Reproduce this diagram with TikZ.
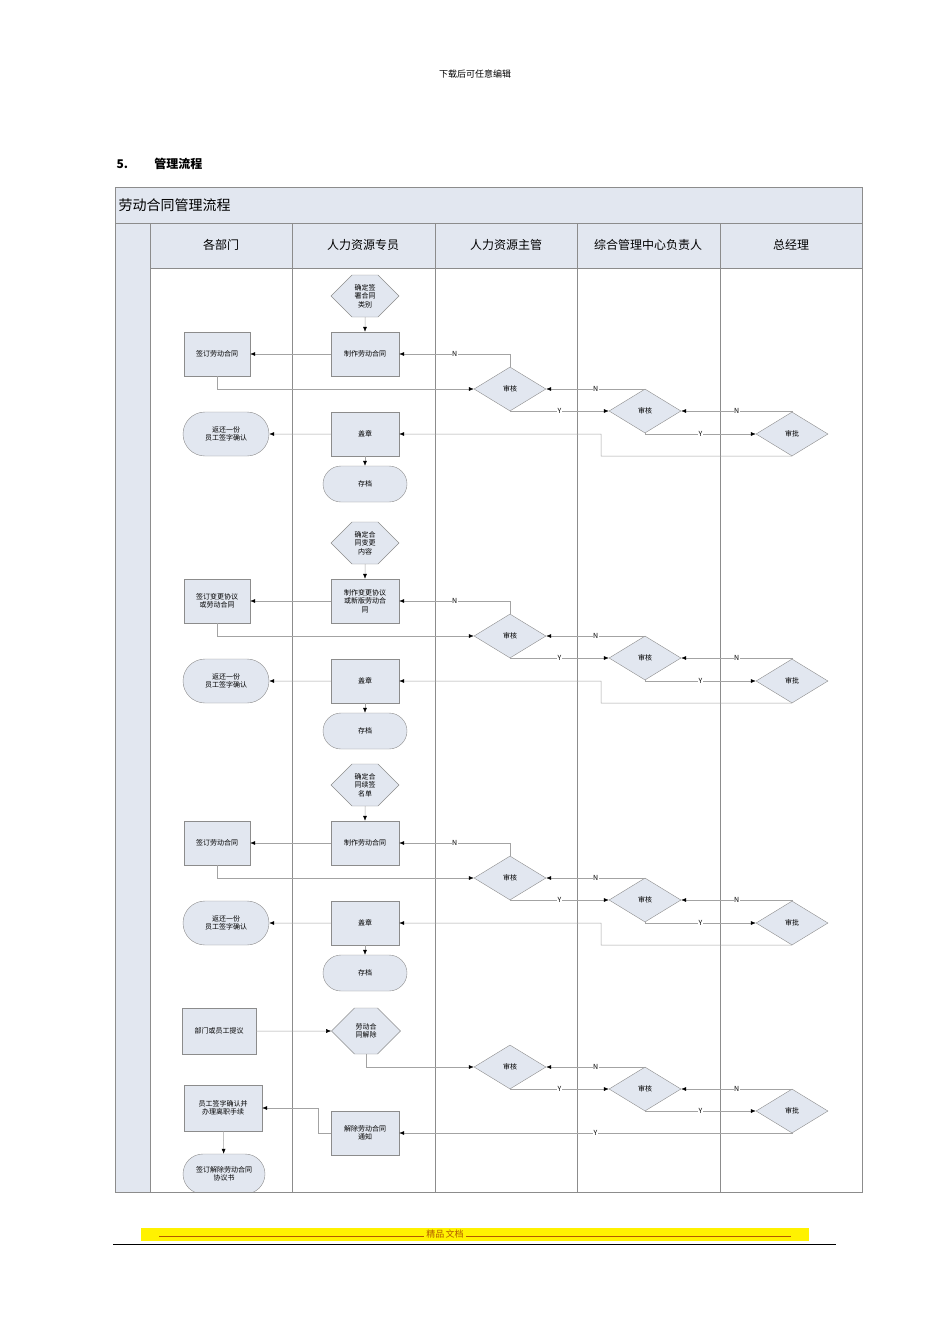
\documentclass[tikz,border=0pt]{standalone}
\usepackage{fontspec}
\setmainfont{Noto Sans CJK SC}
\usetikzlibrary{shapes.geometric,shapes.misc,shapes.symbols,arrows.meta}
\definecolor{fillc}{HTML}{E2E7F0}
\definecolor{linec}{HTML}{8C8C8C}
\tikzset{
 box/.style={draw=linec,fill=fillc,minimum width=68pt,minimum height=44pt,inner sep=1pt,font=\fontsize{7}{8.5}\selectfont,align=center},
 hexa/.style={draw=linec,fill=fillc,signal,signal to=west and east,minimum width=68pt,minimum height=42pt,inner sep=1pt,font=\fontsize{7}{8.5}\selectfont,align=center},
 dia/.style={draw=linec,fill=fillc,diamond,minimum width=72pt,minimum height=44pt,inner sep=0pt,aspect=1.6,font=\fontsize{7}{8}\selectfont},
 term/.style={draw=linec,fill=fillc,rounded rectangle,minimum width=86pt,minimum height=40pt,inner sep=1pt,font=\fontsize{7}{8.5}\selectfont,align=center},
 conn/.style={draw=linec!80,line width=0.5pt,-{Latex[length=5pt,width=4pt,color=black]}},
 lbl/.style={font=\fontsize{7}{8}\selectfont,fill=white,inner sep=0.5pt},
 hdr/.style={font=\fontsize{12}{14}\selectfont}
}
\newcommand\flowblock[5]{%
 \node[hexa] (#2hex) at (365,296+#1) {#3};
 \node[box] (#2make) at (365,354+#1) {#4};
 \node[box,minimum width=66pt] (#2sign) at (217,354+#1) {#5};
 \node[dia] (#2d1) at (510,389+#1) {审核};
 \node[dia] (#2d2) at (645,411+#1) {审核};
 \node[dia] (#2d3) at (792,434+#1) {审批};
 \node[box] (#2seal) at (365,434+#1) {盖章};
 \node[term,minimum width=88pt,minimum height=44pt] (#2ret) at (226,434+#1) {返还一份\\员工签字确认};
 \node[term,minimum height=36pt] (#2arch) at (365,484+#1) {存档};
 \draw[conn] (#2hex) -- (#2make);
 \draw[conn] (#2make) -- (#2sign);
 \draw[conn] (#2sign.south) |- (#2d1.west);
 \draw[conn] (#2d1.north) |- node[lbl,pos=0.75]{N} (#2make.east);
 \draw[conn] (#2d2.north) |- node[lbl,pos=0.75]{N} (#2d1.east);
 \draw[conn] (#2d1.south) |- node[lbl,pos=0.75]{Y} (#2d2.west);
 \draw[conn] (#2d3.north) |- node[lbl,pos=0.75]{N} (#2d2.east);
 \draw[conn] (#2d2.south) |- node[lbl,pos=0.75]{Y} (#2d3.west);
 \coordinate (#2bend) at (601,456+#1);
 \draw[conn] (#2d3.south) -- (#2bend) |- (#2seal.east);
 \draw[conn] (#2seal) -- (#2ret);
 \draw[conn] (#2seal) -- (#2arch);
}
\begin{document}
\begin{tikzpicture}[x=1pt,y=-1pt]
\useasboundingbox (0,0) rectangle (950,1344);
\node[font=\fontsize{9}{10}\selectfont] (top) at (475,74) {下载后可任意编辑};
\node[anchor=west,font=\fontsize{12}{14}\selectfont\bfseries] (sec) at (113,164) {5.\hspace{2.2em}管理流程};
\draw[linec,fill=fillc] (115,187) rectangle (862,223);
\node[anchor=west,font=\fontsize{14}{16}\selectfont] (title) at (115,205) {劳动合同管理流程};
\draw[linec,fill=fillc] (115,223) rectangle (150,1192);
\draw[linec,fill=fillc] (150,223) rectangle (862,268);
\draw[linec] (115,187) rectangle (862,1192);
\foreach \x in {292,435,577,720} \draw[linec] (\x,223) -- (\x,1192);
\node[hdr] (h1) at (221,245) {各部门};
\node[hdr] (h2) at (363,245) {人力资源专员};
\node[hdr] (h3) at (506,245) {人力资源主管};
\node[hdr] (h4) at (648,245) {综合管理中心负责人};
\node[hdr] (h5) at (791,245) {总经理};
\flowblock{0}{a}{确定签\\署合同\\类别}{制作劳动合同}{签订劳动合同}
\flowblock{247}{b}{确定合\\同变更\\内容}{制作变更协议\\或新版劳动合\\同}{签订变更协议\\或劳动合同}
\flowblock{489}{c}{确定合\\同续签\\名单}{制作劳动合同}{签订劳动合同}
\node[box,minimum width=74pt,minimum height=46pt] (prop) at (219,1031) {部门或员工提议};
\node[hexa,minimum height=46pt] (dis) at (366,1031) {劳动合\\同解除};
\node[dia] (e1) at (510,1067) {审核};
\node[dia] (e2) at (645,1089) {审核};
\node[dia] (e3) at (792,1111) {审批};
\node[box] (notice) at (365,1133) {解除劳动合同\\通知};
\node[box,minimum width=78pt,minimum height=46pt] (conf) at (223,1108) {员工签字确认并\\办理离职手续};
\begin{scope}
\clip (150,1100) rectangle (292,1192);
\node[term,minimum width=84pt,minimum height=40pt] (agr) at (224,1174) {签订解除劳动合同\\协议书};
\end{scope}
\draw[conn] (prop) -- (dis);
\draw[conn] (dis.south) |- (e1.west);
\draw[conn] (e2.north) |- node[lbl,pos=0.75]{N} (e1.east);
\draw[conn] (e1.south) |- node[lbl,pos=0.75]{Y} (e2.west);
\draw[conn] (e3.north) |- node[lbl,pos=0.75]{N} (e2.east);
\draw[conn] (e2.south) |- node[lbl,pos=0.75]{Y} (e3.west);
\draw[conn] (e3.south) |- node[lbl,pos=0.75]{Y} (notice.east);
\coordinate (nb) at (318,1133);
\draw[conn] (notice.west) -- (nb) |- (conf.east);
\draw[conn] (conf) -- (agr);
\draw[linec] (115,1192) -- (862,1192);
\fill[yellow] (141,1228) rectangle (809,1241);
\node[font=\fontsize{9}{10}\selectfont,inner sep=0pt] (foot) at (475,1234.5) {\textcolor{orange!70!black}{\rule[2pt]{265pt}{0.4pt} 精品\,文档 \rule[2pt]{325pt}{0.4pt}}};
\draw[black] (113,1244) -- (836,1244);
\end{tikzpicture}
\end{document}
